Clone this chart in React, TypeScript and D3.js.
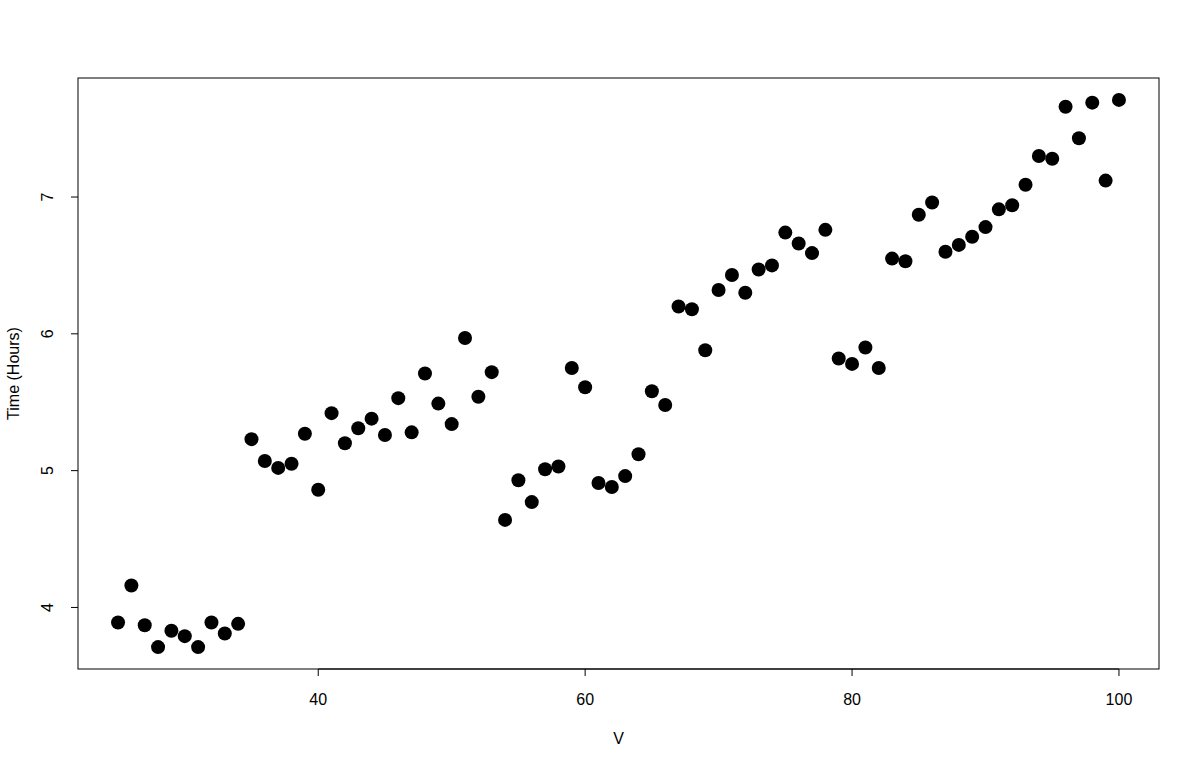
import React from "react";
import * as d3 from "d3";

const xValues: number[] = d3.range(25, 101);
const yValues: number[] = [
  3.89, 4.16, 3.87, 3.71, 3.83, 3.79, 3.71, 3.89, 3.81, 3.88,
  5.23, 5.07, 5.02, 5.05, 5.27, 4.86, 5.42, 5.20, 5.31, 5.38,
  5.26, 5.53, 5.28, 5.71, 5.49, 5.34, 5.97, 5.54, 5.72, 4.64,
  4.93, 4.77, 5.01, 5.03, 5.75, 5.61, 4.91, 4.88, 4.96, 5.12,
  5.58, 5.48, 6.20, 6.18, 5.88, 6.32, 6.43, 6.30, 6.47, 6.50,
  6.74, 6.66, 6.59, 6.76, 5.82, 5.78, 5.90, 5.75, 6.55, 6.53,
  6.87, 6.96, 6.60, 6.65, 6.71, 6.78, 6.91, 6.94, 7.09, 7.30,
  7.28, 7.66, 7.43, 7.69, 7.12, 7.71,
];
const xTicks: number[] = [40, 60, 80, 100];
const yTicks: number[] = [4, 5, 6, 7];
const xLabel = "V";
const yLabel = "Time (Hours)";

export default function App() {
  const W = 1200, H = 768;
  const left = 78, right = 1159, top = 78, bottom = 669;
  const xmin = d3.min(xValues)!, xmax = d3.max(xValues)!;
  const ymin = d3.min(yValues)!, ymax = d3.max(yValues)!;
  const xp = (xmax - xmin) * 0.04, yp = (ymax - ymin) * 0.04;
  const x = d3.scaleLinear().domain([xmin - xp, xmax + xp]).range([left, right]);
  const y = d3.scaleLinear().domain([ymin - yp, ymax + yp]).range([bottom, top]);
  const font = "'Liberation Sans', Arial, sans-serif";
  return (
    <svg width={W} height={H} style={{ position: "absolute", left: 0, top: 0, background: "#fff" }}>
      <rect x={0} y={0} width={W} height={H} fill="#fff" />
      <rect x={left} y={top} width={right - left} height={bottom - top} fill="none" stroke="#000" strokeWidth={1} />
      {xValues.map((v, i) => (
        <circle key={i} cx={x(v)} cy={y(yValues[i])} r={7} fill="#000" />
      ))}
      <g fontFamily={font} fontSize={16} fill="#000">
        <line x1={x(xTicks[0])} x2={x(xTicks[xTicks.length - 1])} y1={bottom} y2={bottom} stroke="#000" />
        {xTicks.map((t) => (
          <g key={t}>
            <line x1={x(t)} x2={x(t)} y1={bottom} y2={bottom + 7} stroke="#000" />
            <text x={x(t)} y={705} textAnchor="middle">{t}</text>
          </g>
        ))}
        {yTicks.map((t) => (
          <g key={t}>
            <line x1={left} x2={left - 7} y1={y(t)} y2={y(t)} stroke="#000" />
            <text transform={`translate(53,${y(t)}) rotate(-90)`} textAnchor="middle">{t}</text>
          </g>
        ))}
        <text x={(left + right) / 2} y={744} textAnchor="middle">{xLabel}</text>
        <text transform={`translate(19,${(top + bottom) / 2}) rotate(-90)`} textAnchor="middle">{yLabel}</text>
      </g>
    </svg>
  );
}
